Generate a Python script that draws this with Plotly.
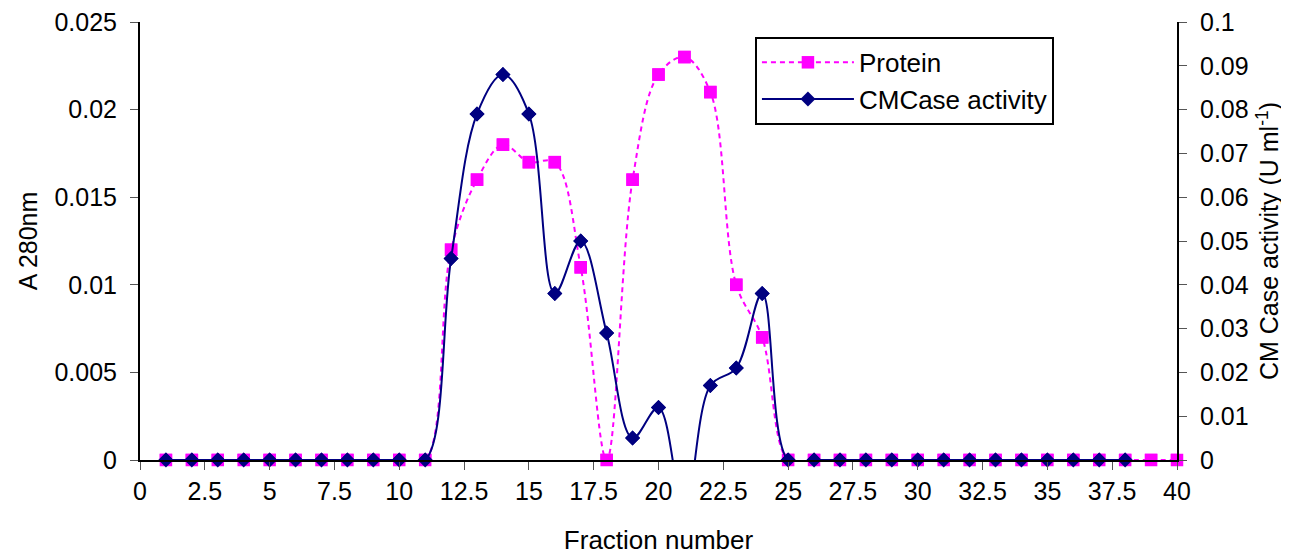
import plotly.graph_objects as go

fractions = list(range(1, 41))
protein = [0, 0, 0, 0, 0, 0, 0, 0, 0, 0, 0,
           0.012, 0.016, 0.018, 0.017, 0.017, 0.011, 0.0, 0.016, 0.022,
           0.023, 0.021, 0.010, 0.007,
           0, 0, 0, 0, 0, 0, 0, 0, 0, 0, 0, 0, 0, 0, 0, 0]
cmc_fractions = list(range(1, 39))
cmcase = [0, 0, 0, 0, 0, 0, 0, 0, 0, 0, 0,
          0.046, 0.079, 0.088, 0.079, 0.038, 0.050, 0.029, 0.005, 0.012,
          -0.012, 0.017, 0.021, 0.038,
          0, 0, 0, 0, 0, 0, 0, 0, 0, 0, 0, 0, 0, 0]

x_ticks = [i * 2.5 for i in range(17)]
y1_ticks = [0, 0.005, 0.01, 0.015, 0.02, 0.025]
y2_ticks = [0, 0.01, 0.02, 0.03, 0.04, 0.05, 0.06, 0.07, 0.08, 0.09, 0.1]

MAG = "#FF00FF"
NAVY = "#000080"
FONT = "Liberation Sans, Arial, sans-serif"
FS = 25

fig = go.Figure()

fig.add_trace(go.Scatter(
    x=fractions, y=protein, name="Protein", mode="lines+markers",
    line=dict(color=MAG, width=2, dash="5px,4px", shape="spline", smoothing=1),
    marker=dict(symbol="square", size=12.5, color=MAG),
    cliponaxis=True, yaxis="y"))
fig.add_trace(go.Scatter(
    x=fractions, y=protein, mode="markers", showlegend=False,
    marker=dict(symbol="square", size=12.5, color=MAG),
    cliponaxis=False, yaxis="y", hoverinfo="skip"))

fig.add_trace(go.Scatter(
    x=cmc_fractions, y=cmcase, name="CMCase activity", mode="lines+markers",
    line=dict(color=NAVY, width=2, shape="spline", smoothing=1),
    marker=dict(symbol="diamond", size=11.5, color=NAVY),
    cliponaxis=True, yaxis="y2"))
vis_x = [f for f, v in zip(cmc_fractions, cmcase) if v >= 0]
vis_y = [v for v in cmcase if v >= 0]
fig.add_trace(go.Scatter(
    x=vis_x, y=vis_y, mode="markers", showlegend=False,
    marker=dict(symbol="diamond", size=11.5, color=NAVY),
    cliponaxis=False, yaxis="y2", hoverinfo="skip"))

fig.update_layout(
    width=1281, height=548,
    margin=dict(l=132, r=112, t=14, b=96, autoexpand=False),
    paper_bgcolor="white", plot_bgcolor="white",
    font=dict(family=FONT, size=FS, color="black"),
    showlegend=True,
    legend=dict(
        x=0.593, y=0.966, xanchor="left", yanchor="top",
        bordercolor="black", borderwidth=2, bgcolor="white",
        font=dict(size=26), itemwidth=92, tracegroupgap=0,
    ),
    xaxis=dict(
        range=[0, 40], tickvals=x_ticks, ticktext=[("%g" % t) for t in x_ticks],
        showgrid=False, zeroline=False, showline=True, linecolor="black", linewidth=2,
        ticks="outside", ticklen=8, tickcolor="#555555", tickwidth=1,
        ticklabelstandoff=0, automargin=False, ticklabeloverflow="allow",
        title=dict(text="Fraction number", standoff=27, font=dict(size=26)),
    ),
    yaxis=dict(
        range=[0, 0.025], tickvals=y1_ticks, ticktext=[("%g" % t) for t in y1_ticks],
        showgrid=False, zeroline=False, showline=True, linecolor="black", linewidth=2,
        ticks="outside", ticklen=8, tickcolor="#555555", tickwidth=1,
        ticklabelstandoff=8, automargin=False, ticklabeloverflow="allow",
        title=dict(text="A 280nm", standoff=10, font=dict(size=FS)),
    ),
    yaxis2=dict(
        range=[0, 0.1], tickvals=y2_ticks, ticktext=[("%g" % t) for t in y2_ticks],
        overlaying="y", side="right",
        showgrid=False, zeroline=False, showline=True, linecolor="black", linewidth=2,
        ticks="outside", ticklen=8, tickcolor="#555555", tickwidth=1,
        ticklabelstandoff=8, automargin=False, ticklabeloverflow="allow",
        title=dict(text="CM Case activity (U ml<sup>-1</sup>)", standoff=13, font=dict(size=FS)),
    ),
)

fig.write_html("out.html")
